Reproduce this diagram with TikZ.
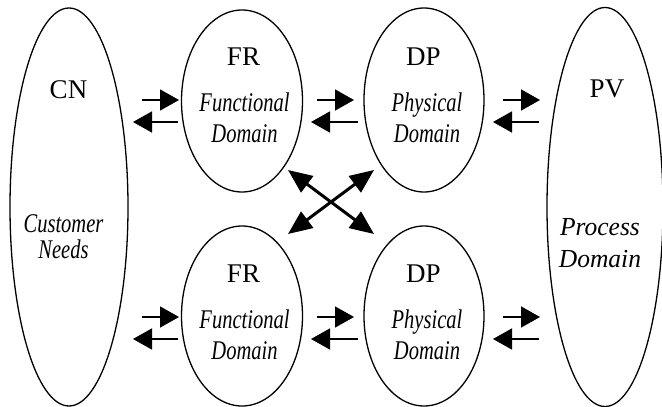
\documentclass[tikz,border=0pt]{standalone}
\usepackage{amsmath}
\usepackage{fontspec}
\setmainfont{Liberation Serif}
\usetikzlibrary{shapes.geometric,arrows.meta}

% two italic lines, squeezed sideways
\newcommand{\twolines}[3][0.76]{\scalebox{#1}[1]{\begin{tabular}[t]{@{}c@{}}#2\\#3\end{tabular}}}

\tikzset{
	dom/.style={shape=ellipse,draw=black,line width=1.3pt,inner sep=0pt},
	sym/.style={font=\fontsize{27}{31}\selectfont,anchor=base,inner sep=0pt},
	txt/.style={font=\fontsize{27}{31}\itshape\selectfont,anchor=base,inner sep=0pt},
	arr/.style={line width=1.6pt,-{Triangle[length=19pt,width=21pt]}},
	cross/.style={line width=3pt,{Triangle[length=24pt,width=20pt]}-{Triangle[length=24pt,width=20pt]}}
}

\begin{document}
\begin{tikzpicture}[x=1pt,y=-1pt]

		\useasboundingbox (0,0) rectangle (662,407);

		% domains
		\node[dom,minimum width=118pt,minimum height=398pt] (cn) at (69, 207)  {};
		\node[dom,minimum width=121pt,minimum height=182pt] (fr1) at (242, 101) {};
		\node[dom,minimum width=120pt,minimum height=184pt] (dp1) at (424, 100) {};
		\node[dom,minimum width=121pt,minimum height=180pt] (fr2) at (242, 316) {};
		\node[dom,minimum width=120pt,minimum height=180pt] (dp2) at (424, 316) {};
		\node[dom,minimum width=116pt,minimum height=399pt] (pv) at (605, 207)  {};

		% labels (placed on their baselines)
		\node[sym] (cnl) at (68.5, 98)  {CN};
		\node[txt,font=\fontsize{27}{26.5}\itshape\selectfont] (cnt) at (63.5, 232) {\twolines{Customer}{Needs}};
		\node[sym] (fr1l) at (243.5, 65) {FR};
		\node[txt] (fr1t) at (244.5, 111) {\twolines{Functional}{Domain}};
		\node[sym] (dp1l) at (423.5, 65) {DP};
		\node[txt] (dp1t) at (427, 111)   {\twolines{Physical}{Domain}};
		\node[sym] (fr2l) at (243.5, 282) {FR};
		\node[txt] (fr2t) at (244.5, 328) {\twolines{Functional}{Domain}};
		\node[sym] (dp2l) at (423.5, 282) {DP};
		\node[txt] (dp2t) at (427, 328)   {\twolines{Physical}{Domain}};
		\node[sym] (pvl) at (607, 97)     {PV};
		\node[txt,font=\fontsize{26}{32}\itshape\selectfont] (pvt) at (600, 235) {\twolines[0.98]{Process}{Domain}};

		% arrow ends, top row
		\coordinate (A1) at (142,100);
		\coordinate (A2) at (179,100);
		\coordinate (A3) at (178,122);
		\coordinate (A4) at (133,122);
		\coordinate (B1) at (317,100);
		\coordinate (B2) at (354,100);
		\coordinate (B3) at (358,122);
		\coordinate (B4) at (311,122);
		\coordinate (C1) at (503,100);
		\coordinate (C2) at (540,100);
		\coordinate (C3) at (539,122);
		\coordinate (C4) at (493,122);
		% arrow ends, bottom row
		\coordinate (D1) at (142,317);
		\coordinate (D2) at (179,317);
		\coordinate (D3) at (178,339);
		\coordinate (D4) at (133,339);
		\coordinate (E1) at (317,317);
		\coordinate (E2) at (354,317);
		\coordinate (E3) at (358,339);
		\coordinate (E4) at (311,339);
		\coordinate (F1) at (503,317);
		\coordinate (F2) at (540,317);
		\coordinate (F3) at (539,339);
		\coordinate (F4) at (493,339);
		\foreach \p in {A,B,C,D,E,F}{
			\draw[arr] (\p1) -- (\p2);
			\draw[arr] (\p3) -- (\p4);
		}

		% crossing arrows
		\coordinate (X1) at (288,170);
		\coordinate (X2) at (374,234);
		\coordinate (X3) at (374,170);
		\coordinate (X4) at (288,234);
		\draw[cross] (X1) -- (X2);
		\draw[cross] (X3) -- (X4);
		\end{tikzpicture}
\end{document}
